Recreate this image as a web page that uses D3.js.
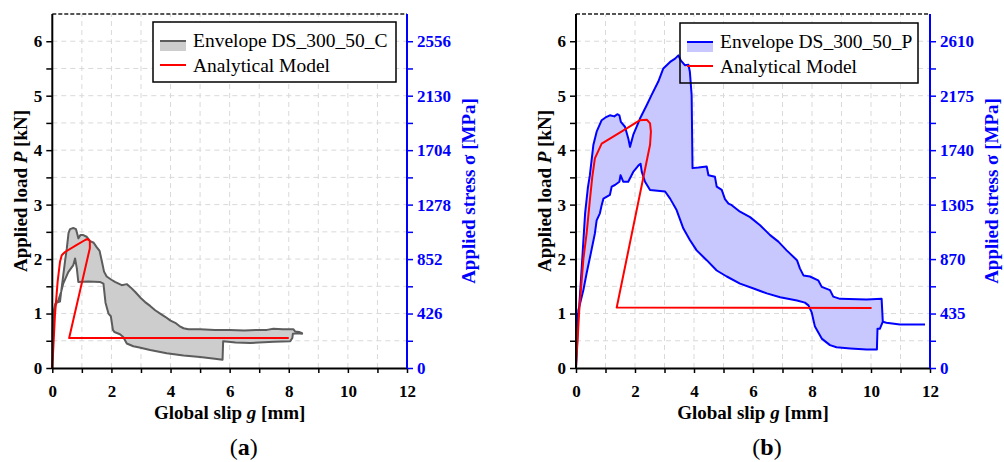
<!DOCTYPE html>
<html lang="en">
<head>
<meta charset="utf-8">
<title>Load - slip envelopes</title>
<script src="https://d3js.org/d3.v7.min.js"></script>
<style>
body { margin: 0; background: #fff; }
svg text { font-family: "Liberation Serif", "Times New Roman", serif; }
.tick text { font-weight: bold; font-size: 17px; }
</style>
</head>
<body>
<script>
// slip ticks and load ticks
var slipTicks = [0, 1, 2, 3, 4, 5, 6, 7, 8, 9, 10, 11, 12];
var loadTicks = [0, 0.5, 1, 1.5, 2, 2.5, 3, 3.5, 4, 4.5, 5, 5.5, 6, 6.5];

// stress labels on the right axes
var stressA = [0, 426, 852, 1278, 1704, 2130, 2556];
var stressB = [0, 435, 870, 1305, 1740, 2175, 2610];

// (a) DS_300_50_C envelope, [slip mm, load kN]
var cUpper = [[0,0],[0.01,0.6],[0.03,1.0],[0.1,1.18],[0.15,1.2],[0.26,1.22],[0.3,1.4],[0.37,1.7],[0.44,2.0],[0.49,2.19],
  [0.55,2.48],[0.6,2.55],[0.71,2.57],[0.8,2.55],[0.85,2.45],[0.88,2.38],[0.95,2.44],[1.05,2.44],[1.16,2.41],[1.28,2.33],
  [1.4,2.3],[1.5,2.22],[1.6,2.15],[1.68,1.95],[1.75,1.77],[1.84,1.68],[2.0,1.62],[2.12,1.58],[2.35,1.52],[2.52,1.54],
  [2.65,1.48],[2.8,1.4],[3.0,1.28],[3.14,1.21],[3.31,1.14],[3.48,1.06],[3.65,1.0],[3.82,0.94],[4.0,0.87],[4.16,0.83],
  [4.3,0.77],[4.44,0.73],[4.6,0.71],[5.0,0.71],[5.5,0.7],[6.0,0.7],[6.5,0.69],[7.0,0.7],[7.26,0.7],[7.48,0.72],
  [7.8,0.71],[8.16,0.71],[8.22,0.67],[8.35,0.66],[8.45,0.64]];
var cLower = [[0,0],[0.03,0.9],[0.1,1.15],[0.2,1.24],[0.3,1.4],[0.37,1.55],[0.54,1.76],[0.71,1.89],[0.77,2.01],[0.83,1.83],
  [0.88,1.58],[1.22,1.59],[1.61,1.58],[1.73,1.55],[1.8,1.2],[1.9,1.0],[1.98,0.95],[2.05,0.7],[2.1,0.66],[2.29,0.62],
  [2.4,0.57],[2.52,0.45],[2.74,0.4],[2.91,0.38],[3.31,0.33],[3.87,0.27],[4.44,0.23],[5.0,0.2],[5.5,0.17],[5.76,0.15],
  [5.78,0.49],[6.2,0.47],[6.7,0.46],[7.5,0.48],[8.05,0.49],[8.12,0.55],[8.14,0.63],[8.3,0.64],[8.45,0.63]];
var cModel = [[0,0],[0.09,0.97],[0.18,1.58],[0.26,1.95],[0.32,2.07],[0.43,2.13],[0.8,2.25],[1.11,2.35],[1.2,2.37],
  [1.27,2.33],[1.27,2.2],[0.57,0.55],[8.0,0.55]];

// (b) DS_300_50_P envelope
var pUpper = [[0,0],[0.02,0.95],[0.1,1.05],[0.2,1.9],[0.31,2.85],[0.4,3.3],[0.47,3.54],[0.59,4.1],[0.7,4.34],[0.87,4.55],
  [1.0,4.6],[1.15,4.64],[1.3,4.62],[1.4,4.66],[1.47,4.64],[1.52,4.52],[1.66,4.43],[1.77,4.22],[1.83,4.06],[1.94,4.28],
  [2.17,4.58],[2.4,4.83],[2.56,5.01],[2.79,5.26],[2.96,5.5],[3.19,5.62],[3.36,5.68],[3.47,5.74],[3.55,5.65],[3.69,5.56],
  [3.81,5.57],[3.86,5.44],[3.92,5.01],[3.95,3.67],[4.15,3.68],[4.43,3.7],[4.49,3.54],[4.71,3.51],[4.77,3.33],[4.94,3.27],
  [5.05,3.1],[5.17,3.02],[5.28,2.99],[5.56,2.87],[5.9,2.77],[6.24,2.62],[6.58,2.44],[6.86,2.32],[7.14,2.16],[7.49,1.98],
  [7.59,1.83],[7.71,1.7],[7.93,1.68],[8.21,1.61],[8.33,1.49],[8.61,1.43],[8.72,1.31],[8.95,1.27],[9.85,1.26],[10.36,1.27],
  [10.4,0.85]];
var pLower = [[0,0],[0.05,0.6],[0.08,1.06],[0.14,1.19],[0.25,1.43],[0.36,1.74],[0.5,2.1],[0.64,2.47],[0.7,2.71],[0.81,2.84],
  [0.87,2.99],[0.93,3.11],[1.15,3.18],[1.21,3.33],[1.32,3.36],[1.47,3.42],[1.51,3.54],[1.6,3.42],[1.77,3.42],[1.94,3.6],
  [2.12,3.72],[2.19,3.75],[2.23,3.6],[2.34,3.42],[2.51,3.27],[3.02,3.24],[3.19,3.11],[3.41,2.9],[3.64,2.56],[3.86,2.35],
  [4.09,2.16],[4.43,1.98],[4.77,1.79],[5.11,1.68],[5.56,1.55],[6.02,1.46],[6.47,1.37],[6.92,1.3],[7.49,1.24],[7.76,1.2],
  [7.88,1.15],[7.99,1.02],[8.1,0.76],[8.33,0.54],[8.61,0.42],[8.83,0.38],[9.3,0.36],[9.85,0.34],[10.2,0.34],[10.22,0.72],
  [10.3,0.72],[10.4,0.85]];
var pTail = [[10.4,0.85],[10.52,0.83],[10.98,0.8],[11.4,0.8],[11.83,0.8]];
var pModel = [[0,0],[0.11,1.06],[0.25,2.0],[0.36,2.47],[0.47,3.08],[0.55,3.5],[0.64,3.85],[0.87,4.12],[1.15,4.21],
  [1.72,4.4],[2.17,4.55],[2.4,4.56],[2.51,4.49],[2.54,4.34],[2.51,4.1],[1.38,1.11],[10.02,1.1]];

var w = 1004, h = 462;
var svg = d3.select("body").append("svg").attr("width", w).attr("height", h);

function drawPanel(p) {
    var top = 14, bottom = 368;
    var x = d3.scaleLinear().domain([0, 12]).range([p.left, p.right]);
    var y = d3.scaleLinear().domain([0, 6.5]).range([bottom, top]);
    var step = p.stress[1];
    var s = d3.scaleLinear().domain([0, 6.5 * step]).range([bottom, top]);
    var g = svg.append("g");

    //grid
    g.selectAll(".vg").data(slipTicks.slice(1, -1)).enter().append("line")
        .attr("x1", d => x(d)).attr("x2", d => x(d))
        .attr("y1", bottom).attr("y2", top)
        .attr("stroke", "#d9d9d9").attr("stroke-width", 1).attr("stroke-dasharray", "5,4");
    g.selectAll(".hg").data(loadTicks.slice(1, -1)).enter().append("line")
        .attr("x1", p.left).attr("x2", p.right)
        .attr("y1", d => y(d)).attr("y2", d => y(d))
        .attr("stroke", "#d9d9d9").attr("stroke-width", 1).attr("stroke-dasharray", "5,4");

    // top frame, dashed
    g.append("line").attr("x1", p.left).attr("x2", p.right).attr("y1", top).attr("y2", top)
        .attr("stroke", "#555").attr("stroke-width", 2).attr("stroke-dasharray", "4,2");

    // legend background
    g.append("rect").attr("x", p.legX).attr("y", p.legY).attr("width", p.legW).attr("height", 60)
        .attr("fill", "#fff");

    var line = d3.line().x(d => x(d[0])).y(d => y(d[1]));

    // envelope
    g.append("path")
        .attr("d", line(p.upper.concat(p.lower.slice().reverse())) + "Z")
        .attr("fill", p.fill).attr("stroke", p.color).attr("stroke-width", 2)
        .attr("stroke-linejoin", "round");
    if (p.tail) {
        g.append("path").attr("d", line(p.tail)).attr("fill", "none")
            .attr("stroke", p.color).attr("stroke-width", 2);
    }

    // analytical model
    g.append("path").attr("d", line(p.model)).attr("fill", "none")
        .attr("stroke", "#ff0000").attr("stroke-width", 2).attr("stroke-linejoin", "round");

    // axes
    var xAxis = d3.axisBottom(x).tickValues(slipTicks).tickSize(5).tickSizeOuter(0).tickPadding(12)
        .tickFormat(d => d % 2 == 0 ? d : "");
    var gx = g.append("g").attr("transform", "translate(0," + bottom + ")").call(xAxis);

    var yAxis = d3.axisLeft(y).tickValues(loadTicks.slice(0, -1)).tickSize(6).tickSizeOuter(0).tickPadding(4)
        .tickFormat(d => Number.isInteger(d) ? d : "");
    var gy = g.append("g").attr("transform", "translate(" + p.left + ",0)").call(yAxis);

    var sTicks = loadTicks.slice(0, -1).map(v => v * step);
    var sAxis = d3.axisRight(s).tickValues(sTicks).tickSize(6).tickSizeOuter(0).tickPadding(4)
        .tickFormat(d => p.stress.indexOf(d) >= 0 ? d : "");
    var gs = g.append("g").attr("transform", "translate(" + p.right + ",0)").call(sAxis);

    [gx, gy].forEach(a => {
        a.select(".domain").attr("stroke", "#000").attr("stroke-width", 2);
        a.selectAll(".tick line").attr("stroke", "#000").attr("stroke-width", 1.5);
        a.selectAll(".tick text").attr("fill", "#000");
    });
    gs.select(".domain").attr("stroke", "#0000ff").attr("stroke-width", 2);
    gs.selectAll(".tick line").attr("stroke", "#0000ff").attr("stroke-width", 1.5);
    gs.selectAll(".tick text").attr("fill", "#0000ff");
    gy.select(".domain").attr("d", "M0," + top + "V" + bottom);
    gs.select(".domain").attr("d", "M0," + top + "V" + bottom);
    // drop the empty labels of the minor ticks
    [gx, gy, gs].forEach(a => a.selectAll(".tick text").filter(function() { return this.textContent == ""; }).remove());

    // axis titles
    var xt = g.append("text").attr("x", (p.left + p.right) / 2).attr("y", 419)
        .attr("text-anchor", "middle").attr("font-size", 19).attr("font-weight", "bold");
    xt.append("tspan").text("Global slip ");
    xt.append("tspan").attr("font-style", "italic").text("g");
    xt.append("tspan").text(" [mm]");

    var yt = g.append("text").attr("transform", "translate(" + (p.left - 25) + "," + (top + bottom) / 2 + ") rotate(-90)")
        .attr("text-anchor", "middle").attr("font-size", 19).attr("font-weight", "bold");
    yt.append("tspan").text("Applied load ");
    yt.append("tspan").attr("font-style", "italic").text("P");
    yt.append("tspan").text(" [kN]");

    g.append("text").attr("transform", "translate(" + (p.right + 68) + "," + (top + bottom) / 2 + ") rotate(-90)")
        .attr("text-anchor", "middle").attr("font-size", 19).attr("font-weight", "bold")
        .attr("fill", "#0000ff").text("Applied stress \u03c3 [MPa]");

    // panel letter
    var lt = g.append("text").attr("x", (p.left + p.right) / 2 + 14).attr("y", 455)
        .attr("text-anchor", "middle").attr("font-size", 24);
    lt.append("tspan").text("(");
    lt.append("tspan").attr("font-weight", "bold").text(p.letter);
    lt.append("tspan").text(")");

    // legend
    var lg = g.append("g").attr("transform", "translate(" + p.legX + "," + p.legY + ")");
    lg.append("rect").attr("width", p.legW).attr("height", 60)
        .attr("fill", "none").attr("stroke", "#000").attr("stroke-width", 1.5);
    lg.append("rect").attr("x", 7).attr("y", 19).attr("width", 26).attr("height", 10).attr("fill", p.fill);
    lg.append("line").attr("x1", 7).attr("x2", 33).attr("y1", 19).attr("y2", 19)
        .attr("stroke", p.color).attr("stroke-width", 2);
    lg.append("line").attr("x1", 7).attr("x2", 33).attr("y1", 43).attr("y2", 43)
        .attr("stroke", "#ff0000").attr("stroke-width", 2);
    lg.append("text").attr("x", 40).attr("y", 25).attr("font-size", 19.5).text(p.name);
    lg.append("text").attr("x", 40).attr("y", 50).attr("font-size", 19.5).text("Analytical Model");
}

drawPanel({
    left: 52.3, right: 407, stress: stressA, letter: "a",
    upper: cUpper, lower: cLower, model: cModel, tail: null,
    fill: "#cdcdcd", color: "#5c5c5c",
    legX: 153, legY: 22, legW: 243, name: "Envelope DS_300_50_C"
});
drawPanel({
    left: 576, right: 930, stress: stressB, letter: "b",
    upper: pUpper, lower: pLower, model: pModel, tail: pTail,
    fill: "#c8c8ff", color: "#0000ff",
    legX: 680, legY: 23, legW: 238, name: "Envelope DS_300_50_P"
});
</script>
</body>
</html>
